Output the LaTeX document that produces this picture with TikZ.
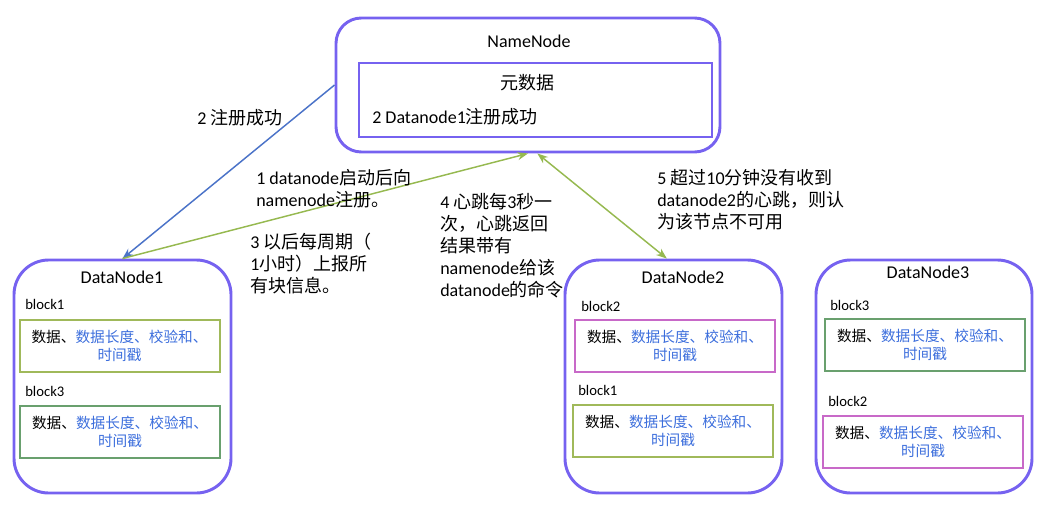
\documentclass[tikz,border=0pt]{standalone}
\usepackage{fontspec}
\setmainfont{Carlito}
\newfontfamily\cjk{Noto Sans CJK SC}
\usetikzlibrary{arrows.meta}
\definecolor{NodeClr}{RGB}{118,98,240}
\definecolor{OliveClr}{RGB}{160,185,90}
\definecolor{GreenClr}{RGB}{105,160,110}
\definecolor{PinkClr}{RGB}{200,105,200}
\definecolor{TxtBlue}{RGB}{60,110,220}
\definecolor{ArrowBlue}{RGB}{75,115,200}
\definecolor{ArrowGreen}{RGB}{150,185,80}
\newcommand{\zh}[1]{{\cjk #1}}
\newcommand{\blktext}{数据、{\color{TxtBlue}数据长度、校验和、}\\{\color{TxtBlue}时间戳}}

\begin{document}
\begin{tikzpicture}[x=0.75pt,y=-0.75pt,
  font=\fontsize{13.5}{16.5}\selectfont,
  nnbox/.style={draw=NodeClr,line width=2.2pt,rounded corners=19pt,
    minimum width=288pt,minimum height=100.5pt,inner sep=0pt},
  metabox/.style={draw=NodeClr,line width=1.8pt,
    minimum width=264.75pt,minimum height=55.5pt,inner sep=0pt},
  dnbox/.style={draw=NodeClr,line width=2.2pt,rounded corners=26pt,
    minimum width=162.75pt,minimum height=174.75pt,inner sep=0pt},
  blkbox/.style={line width=1.5pt,minimum width=150pt,minimum height=39pt,
    align=center,inner sep=0pt,font=\fontsize{11}{13.5}\selectfont\cjk},
  blklabel/.style={anchor=west,inner sep=0pt,font=\fontsize{11}{13.5}\selectfont},
  note/.style={anchor=west,align=left,inner sep=0pt},
  regline/.style={draw=ArrowBlue,line width=1.1pt,-{Stealth[length=8pt,width=6pt]}},
  beatline/.style={draw=ArrowGreen,line width=1.1pt}]
\useasboundingbox (0,0) rectangle (1050,514);

% namenode
\node[nnbox] (nn) at (528,85) {};
\node (nntitle) at (529,41) {NameNode};
\node[metabox] (meta) at (535.5,100) {};
\node (metatitle) at (527,83) {\zh{元数据}};
\node[note] (metaentry) at (372,117) {2 Datanode1\zh{注册成功}};

% datanodes
\node[dnbox] (dn1) at (122.5,376.5) {};
\node[dnbox] (dn2) at (673.5,376.5) {};
\node[dnbox,minimum width=162pt] (dn3) at (924,376.5) {};
\node (dn1title) at (122,277) {DataNode1};
\node (dn2title) at (683,277) {DataNode2};
\node (dn3title) at (928,272) {DataNode3};

% blocks
\node[blklabel] (dn1l1) at (25,304) {block1};
\node[blkbox,draw=OliveClr] (dn1b1) at (119.5,346) {\blktext};
\node[blklabel] (dn1l2) at (25,391) {block3};
\node[blkbox,draw=GreenClr] (dn1b2) at (120,431.5) {\blktext};

\node[blklabel] (dn2l1) at (581,306) {block2};
\node[blkbox,draw=PinkClr] (dn2b1) at (675,346) {\blktext};
\node[blklabel] (dn2l2) at (578,390) {block1};
\node[blkbox,draw=OliveClr] (dn2b2) at (673,431) {\blktext};

\node[blklabel] (dn3l1) at (830,305) {block3};
\node[blkbox,draw=GreenClr] (dn3b1) at (925,345) {\blktext};
\node[blklabel] (dn3l2) at (828,401) {block2};
\node[blkbox,draw=PinkClr] (dn3b2) at (923,441.5) {\blktext};

% connectors
\draw[regline] (nn.west) -- (dn1.north);
\draw[beatline,-{Stealth[length=8pt,width=6pt]}] (dn1.north) -- (nn.south);
\draw[beatline,{Stealth[length=8pt,width=6pt]}-{Stealth[length=8pt,width=6pt]}]
  ([xshift=7pt]nn.south) -- ([xshift=-5pt]dn2.north);

% notes
\node[note] (n2) at (197,118) {2 \zh{注册成功}};
\node[note] (n1) at (256,189) {1 datanode\zh{启动后向}\\namenode\zh{注册。}};
\node[note] (n3) at (250,263.5) {3 \zh{以后每周期（}\\1\zh{小时）上报所}\\\zh{有块信息。}};
\node[note] (n4) at (440,246) {4 \zh{心跳每}3\zh{秒一}\\\zh{次，心跳返回}\\\zh{结果带有}\\namenode\zh{给该}\\datanode\zh{的命令}};
\node[note] (n5) at (657,199.5) {5 \zh{超过}10\zh{分钟没有收到}\\datanode2\zh{的心跳，则认}\\\zh{为该节点不可用}};
\end{tikzpicture}
\end{document}
